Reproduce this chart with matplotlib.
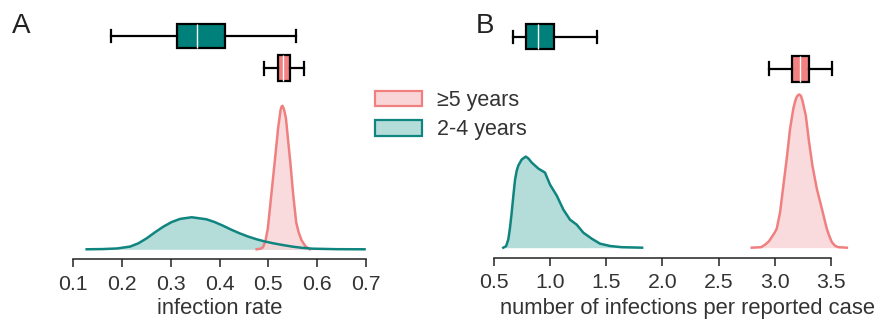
import numpy as np
import matplotlib
matplotlib.use("Agg")
import matplotlib.pyplot as plt
from matplotlib.patches import Patch

plt.rcParams['font.family'] = ['Liberation Sans', 'DejaVu Sans']
plt.rcParams['font.size'] = 15

# colours
teal_dark = '#00807a'
teal_line = '#10857f'
teal_fill = '#b4dcd9'
pink_dark = '#f28282'
pink_line = '#f08080'
pink_fill = '#f9d5d7'
text_col = '#333333'

# --- panel A: infection rate (density, relative units) ---
a_old_x = [0.128, 0.160, 0.190, 0.217, 0.234, 0.251, 0.268, 0.285, 0.302, 0.319,
           0.343, 0.373, 0.390, 0.407, 0.424, 0.441, 0.458, 0.476, 0.493, 0.510,
           0.530, 0.550, 0.570, 0.591, 0.640, 0.697]
a_old_y = [0.0, 0.2, 0.8, 2.7, 6.0, 11.0, 17.0, 22.6, 27.2, 30.3,
           32.0, 30.0, 27.2, 23.6, 19.6, 16.0, 12.8, 10.0, 7.8, 6.0,
           4.2, 2.6, 1.4, 0.6, 0.1, 0.0]
a_young_x = [0.476, 0.484, 0.489, 0.494, 0.499, 0.506, 0.513, 0.520, 0.525, 0.527,
             0.529, 0.532, 0.536, 0.540, 0.545, 0.551, 0.557, 0.562, 0.568, 0.576,
             0.585]
a_young_y = [0.0, 0.6, 2.0, 8.0, 21.0, 54.0, 87.0, 121.0, 139.0, 142.5,
             143.3, 140.0, 131.0, 111.0, 87.0, 54.0, 27.0, 17.0, 9.0, 3.0,
             0.0]

# --- panel B: infections per reported case ---
b_old_x = [0.580, 0.605, 0.625, 0.640, 0.655, 0.670, 0.685, 0.700, 0.714, 0.744,
           0.780, 0.805, 0.834, 0.893, 0.952, 0.997, 1.057, 1.116, 1.175, 1.235,
           1.294, 1.369, 1.443, 1.532, 1.636, 1.818]
b_old_y = [0.0, 1.5, 8.3, 20.0, 35.0, 52.0, 68.0, 77.0, 82.0, 88.0,
           91.0, 89.0, 85.0, 79.0, 75.0, 63.0, 52.0, 38.0, 28.0, 23.0,
           15.0, 9.0, 4.0, 1.7, 0.5, 0.0]
b_young_x = [2.796, 2.880, 2.915, 2.950, 2.975, 3.000, 3.019, 3.049, 3.078, 3.108,
             3.138, 3.167, 3.185, 3.197, 3.210, 3.221, 3.235, 3.248, 3.278, 3.307,
             3.337, 3.376, 3.421, 3.465, 3.490, 3.510, 3.540, 3.569, 3.644]
b_young_y = [0.0, 0.5, 3.0, 6.5, 10.7, 15.0, 19.0, 35.6, 62.0, 89.0,
             119.0, 139.0, 147.0, 150.6, 152.5, 153.0, 151.5, 147.0, 132.0, 105.6,
             82.0, 59.0, 39.0, 19.0, 11.0, 5.6, 1.8, 0.5, 0.0]

# box stats: whislo, q1, median, q3, whishi
a_old_box = [0.177, 0.314, 0.354, 0.412, 0.557]
a_young_box = [0.491, 0.520, 0.530, 0.5445, 0.572]
b_old_box = [0.664, 0.780, 0.893, 1.035, 1.419]
b_young_box = [2.953, 3.158, 3.227, 3.307, 3.510]

labels = ['\u22655 years', '2-4 years']

W, H = 879, 324
fig = plt.figure(figsize=(W / 100, H / 100), dpi=100)


def make_panel(rect, xlim, bounds, ticks, ticklabels, xlabel, old, young,
               old_box, young_box, box_y, box_w, label_xy):
    ax = fig.add_axes(rect)
    ox, oy = old
    yx, yy = young
    ax.fill_between(ox, oy, 0, color=teal_fill, lw=0, zorder=1)
    ax.fill_between(yx, yy, 0, color=pink_fill, alpha=0.85, lw=0, zorder=2)
    ax.plot(yx, yy, color=pink_line, lw=1.8, zorder=3, solid_joinstyle='round')
    ax.plot(ox, oy, color=teal_line, lw=1.8, zorder=4, solid_joinstyle='round')

    stats = []
    for b in (old_box, young_box):
        stats.append(dict(whislo=b[0], q1=b[1], med=b[2], q3=b[3], whishi=b[4], fliers=[]))
    bp = ax.bxp(stats, positions=box_y, widths=box_w, vert=False,
                patch_artist=True, showfliers=False, manage_ticks=False)
    for patch, c in zip(bp['boxes'], (teal_dark, pink_dark)):
        patch.set_facecolor(c)
        patch.set_edgecolor('black')
        patch.set_linewidth(1.6)
    for m in bp['medians']:
        m.set_color('white')
        m.set_linewidth(1.0)
    for w in bp['whiskers'] + bp['caps']:
        w.set_color('black')
        w.set_linewidth(1.6)

    ax.set_xlim(*xlim)
    ax.set_ylim(-10, 244)
    for s in ['left', 'right', 'top']:
        ax.spines[s].set_visible(False)
    ax.spines['bottom'].set_bounds(*bounds)
    ax.spines['bottom'].set_linewidth(1.1)
    ax.spines['bottom'].set_color('#222222')
    ax.set_yticks([])
    ax.set_xticks(ticks)
    ax.set_xticklabels(ticklabels)
    ax.tick_params(axis='x', length=6, width=1.1, color='#222222',
                   labelsize=15.3, labelcolor=text_col, pad=5)
    ax.set_xlabel(xlabel, fontsize=15.8, color=text_col)
    ax.xaxis.set_label_coords(*label_xy)
    return ax


# panel A axes: 0.1 -> px 73, 0.7 -> px 366
a_xlim = (0.06, 0.74)
a_left = 73 - 0.04 / 0.1 * 48.9
a_right = 366 + 0.04 / 0.1 * 48.9
axA = make_panel([a_left / W, (H - 259.3) / H, (a_right - a_left) / W, 254.3 / H],
                 a_xlim, (0.1, 0.7), [0.1, 0.2, 0.3, 0.4, 0.5, 0.6, 0.7],
                 ['0.1', '0.2', '0.3', '0.4', '0.5', '0.6', '0.7'],
                 'infection rate', (a_old_x, a_old_y), (a_young_x, a_young_y),
                 a_old_box, a_young_box, [213.1, 180.6], [24.3, 26.0],
                 ((219.3 - a_left) / (a_right - a_left), -(298.5 - 259.3) / 254.3))

# panel B axes: 0.5 -> px 494.3, 3.5 -> px 830.7
b_xlim = (0.4, 3.75)
ppu = 112.1
b_left = 494.3 - 0.1 * ppu
b_right = 830.7 + 0.25 * ppu
axB = make_panel([b_left / W, (H - 257.7) / H, (b_right - b_left) / W, 254.3 / H],
                 b_xlim, (0.5, 3.5), [0.5, 1.0, 1.5, 2.0, 2.5, 3.0, 3.5],
                 ['0.5', '1.0', '1.5', '2.0', '2.5', '3.0', '3.5'],
                 'number of infections per reported case',
                 (b_old_x, b_old_y), (b_young_x, b_young_y),
                 b_old_box, b_young_box, [210.8, 178.6], [24.3, 26.0],
                 ((688 - b_left) / (b_right - b_left), -(298 - 257.7) / 254.3))

fig.text(12 / W, 1 - 33 / H, 'A', fontsize=20, color='#222222')
fig.text(476 / W, 1 - 33 / H, 'B', fontsize=20, color='#222222')

handles = [Patch(facecolor=pink_fill, edgecolor=pink_line, lw=1.6),
           Patch(facecolor=teal_fill, edgecolor=teal_line, lw=1.6)]
fig.legend(handles, labels, loc='upper left', bbox_to_anchor=(375 / W, 1 - 90 / H),
           frameon=False, fontsize=15.5, handlelength=2.2, handleheight=0.75,
           handletextpad=0.7, labelspacing=0.38, borderpad=0, borderaxespad=0,
           labelcolor=text_col)

fig.savefig('out.png', dpi=100)
